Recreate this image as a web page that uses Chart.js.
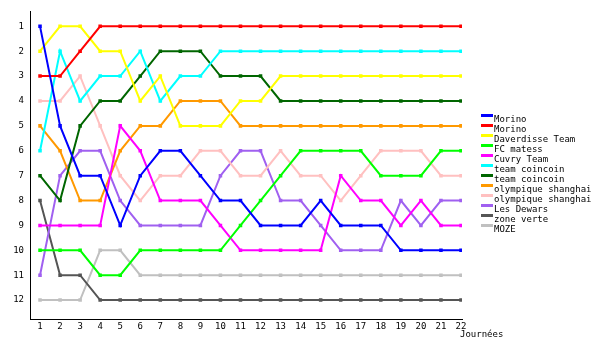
<!DOCTYPE html>
<html>
<head>
<meta charset="utf-8">
<script src="https://cdn.jsdelivr.net/npm/chart.js@4/dist/chart.umd.min.js"></script>
<style>
    html, body { margin: 0; padding: 0; background: #fff; }
    #wrap { width: 600px; height: 350px; }
</style>
</head>
<body>
<div id="wrap"><canvas id="chart" width="600" height="350"></canvas></div>
<script>
// Journées (x axis) and ranks (y axis)
const journees = [1, 2, 3, 4, 5, 6, 7, 8, 9, 10, 11, 12, 13, 14, 15, 16, 17, 18, 19, 20, 21, 22];
const rangs = [1, 2, 3, 4, 5, 6, 7, 8, 9, 10, 11, 12];

const teams = ['Morino', 'Morino', 'Daverdisse Team', 'FC matess', 'Cuvry Team', 'team coincoin',
    'team coincoin', 'olympique shanghai', 'olympique shanghai', 'Les Dewars', 'zone verte', 'MOZE'];

// classement per journée
const morinoBlue = [1, 5, 7, 7, 9, 7, 6, 6, 7, 8, 8, 9, 9, 9, 8, 9, 9, 9, 10, 10, 10, 10];
const morinoRed = [3, 3, 2, 1, 1, 1, 1, 1, 1, 1, 1, 1, 1, 1, 1, 1, 1, 1, 1, 1, 1, 1];
const daverdisse = [2, 1, 1, 2, 2, 4, 3, 5, 5, 5, 4, 4, 3, 3, 3, 3, 3, 3, 3, 3, 3, 3];
const fcMatess = [10, 10, 10, 11, 11, 10, 10, 10, 10, 10, 9, 8, 7, 6, 6, 6, 6, 7, 7, 7, 6, 6];
const cuvry = [9, 9, 9, 9, 5, 6, 8, 8, 8, 9, 10, 10, 10, 10, 10, 7, 8, 8, 9, 8, 9, 9];
const coincoinCyan = [6, 2, 4, 3, 3, 2, 4, 3, 3, 2, 2, 2, 2, 2, 2, 2, 2, 2, 2, 2, 2, 2];
const coincoinGreen = [7, 8, 5, 4, 4, 3, 2, 2, 2, 3, 3, 3, 4, 4, 4, 4, 4, 4, 4, 4, 4, 4];
const olympiqueOrange = [5, 6, 8, 8, 6, 5, 5, 4, 4, 4, 5, 5, 5, 5, 5, 5, 5, 5, 5, 5, 5, 5];
const olympiquePink = [4, 4, 3, 5, 7, 8, 7, 7, 6, 6, 7, 7, 6, 7, 7, 8, 7, 6, 6, 6, 7, 7];
const dewars = [11, 7, 6, 6, 8, 9, 9, 9, 9, 7, 6, 6, 8, 8, 9, 10, 10, 10, 8, 9, 8, 8];
const zoneVerte = [8, 11, 11, 12, 12, 12, 12, 12, 12, 12, 12, 12, 12, 12, 12, 12, 12, 12, 12, 12, 12, 12];
const moze = [12, 12, 12, 10, 10, 11, 11, 11, 11, 11, 11, 11, 11, 11, 11, 11, 11, 11, 11, 11, 11, 11];

const series = [morinoBlue, morinoRed, daverdisse, fcMatess, cuvry, coincoinCyan,
    coincoinGreen, olympiqueOrange, olympiquePink, dewars, zoneVerte, moze];
const colors = ['#0000ff', '#ff0000', '#ffff00', '#00ff00', '#ff00ff', '#00ffff',
    '#006600', '#ff9900', '#ffc0c0', '#a060f0', '#555555', '#c0c0c0'];

const FONT = '"DejaVu Sans Mono", monospace';

const datasets = series.map((vals, i) => ({
    label: teams[i],
    data: vals.map((v, k) => ({ x: journees[k], y: v })),
    borderColor: colors[i],
    backgroundColor: colors[i],
    borderWidth: 2,
    pointStyle: 'rect',
    pointRadius: 2.5,
    pointBorderWidth: 0,
    pointBackgroundColor: colors[i],
    tension: 0,
    fill: false
}));

// legend + axis title drawn by hand to match the original placement
const extras = {
    id: 'extras',
    afterDraw(chart) {
        const ctx = chart.ctx;
        ctx.save();
        ctx.font = '9px ' + FONT;
        ctx.textBaseline = 'middle';
        ctx.textAlign = 'left';
        chart.data.datasets.forEach((ds, i) => {
            const y = 120 + i * 10;
            ctx.fillStyle = ds.borderColor;
            ctx.fillRect(481, y - 6, 12, 3);
            ctx.fillStyle = '#000';
            ctx.fillText(ds.label, 494, y);
        });
        ctx.fillText('Journées', 460, 335);
        ctx.restore();
    }
};

new Chart(document.getElementById('chart'), {
    type: 'line',
    data: { datasets },
    options: {
        responsive: false,
        animation: false,
        layout: { padding: { top: 10, right: 138, left: 0, bottom: 0 } },
        plugins: {
            legend: { display: false },
            tooltip: { enabled: false }
        },
        scales: {
            x: {
                type: 'linear',
                min: 0.5,
                max: 22.05,
                grid: { display: false, drawTicks: false },
                border: { display: true, color: '#000', width: 1 },
                afterBuildTicks: s => { s.ticks = journees.map(v => ({ value: v })); },
                afterFit: s => { s.height = 31; },
                ticks: {
                    autoSkip: false,
                    maxRotation: 0,
                    padding: 2,
                    color: '#000',
                    font: { family: FONT, size: 9 }
                }
            },
            y: {
                type: 'linear',
                reverse: true,
                min: 0.4,
                max: 12.76,
                grid: { display: false, drawTicks: false },
                border: { display: true, color: '#000', width: 1 },
                afterBuildTicks: s => { s.ticks = rangs.map(v => ({ value: v })); },
                afterFit: s => { s.width = 30; },
                ticks: {
                    padding: 6,
                    color: '#000',
                    font: { family: FONT, size: 9 }
                }
            }
        }
    },
    plugins: [extras]
});
</script>
</body>
</html>
